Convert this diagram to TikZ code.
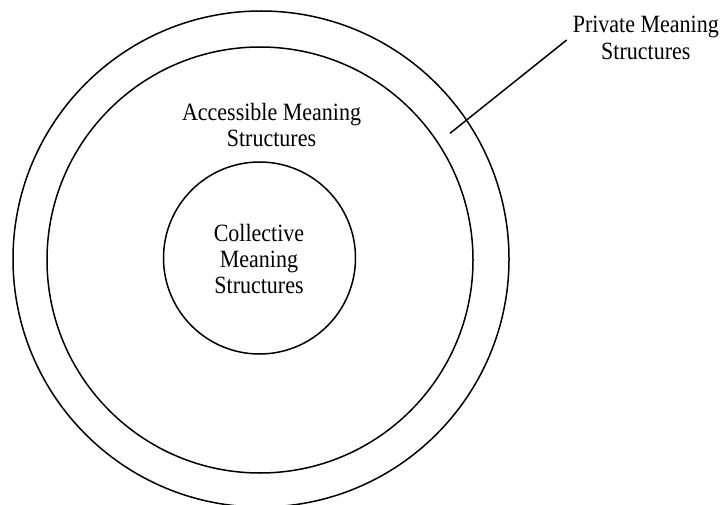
\documentclass[tikz,border=0pt]{standalone}
\usepackage{fontspec}
\setmainfont{Liberation Serif}
\begin{document}
\begin{tikzpicture}[x=1pt,y=-1pt,
  ring/.style={draw=black,line width=1.5pt,circle,inner sep=0pt},
  label/.style={align=center,inner sep=0pt,yscale=1.13,transform shape,font=\fontsize{22}{23.3}\selectfont},
  leader/.style={draw=black,line width=1.5pt}]
\useasboundingbox (0,0) rectangle (722,505);
\node[ring,minimum size=496pt] (outer) at (261,259) {};
\node[ring,minimum size=426pt] (middle) at (260,260) {};
\node[ring,minimum size=192pt] (inner) at (259.5,258) {};
\coordinate (collc) at (259,259);
\coordinate (accc) at (271.5,125);
\coordinate (privc) at (645.8,38);
\node[label] (coll) at (collc) {Collective\\Meaning\\Structures};
\node[label] (acc) at (accc) {Accessible Meaning\\Structures};
\node[label] (priv) at (privc) {Private Meaning\\Structures};
\coordinate (leadA) at (566.7,40);
\coordinate (leadB) at (450,133.3);
\draw[leader] (leadA) -- (leadB);
\end{tikzpicture}
\end{document}
